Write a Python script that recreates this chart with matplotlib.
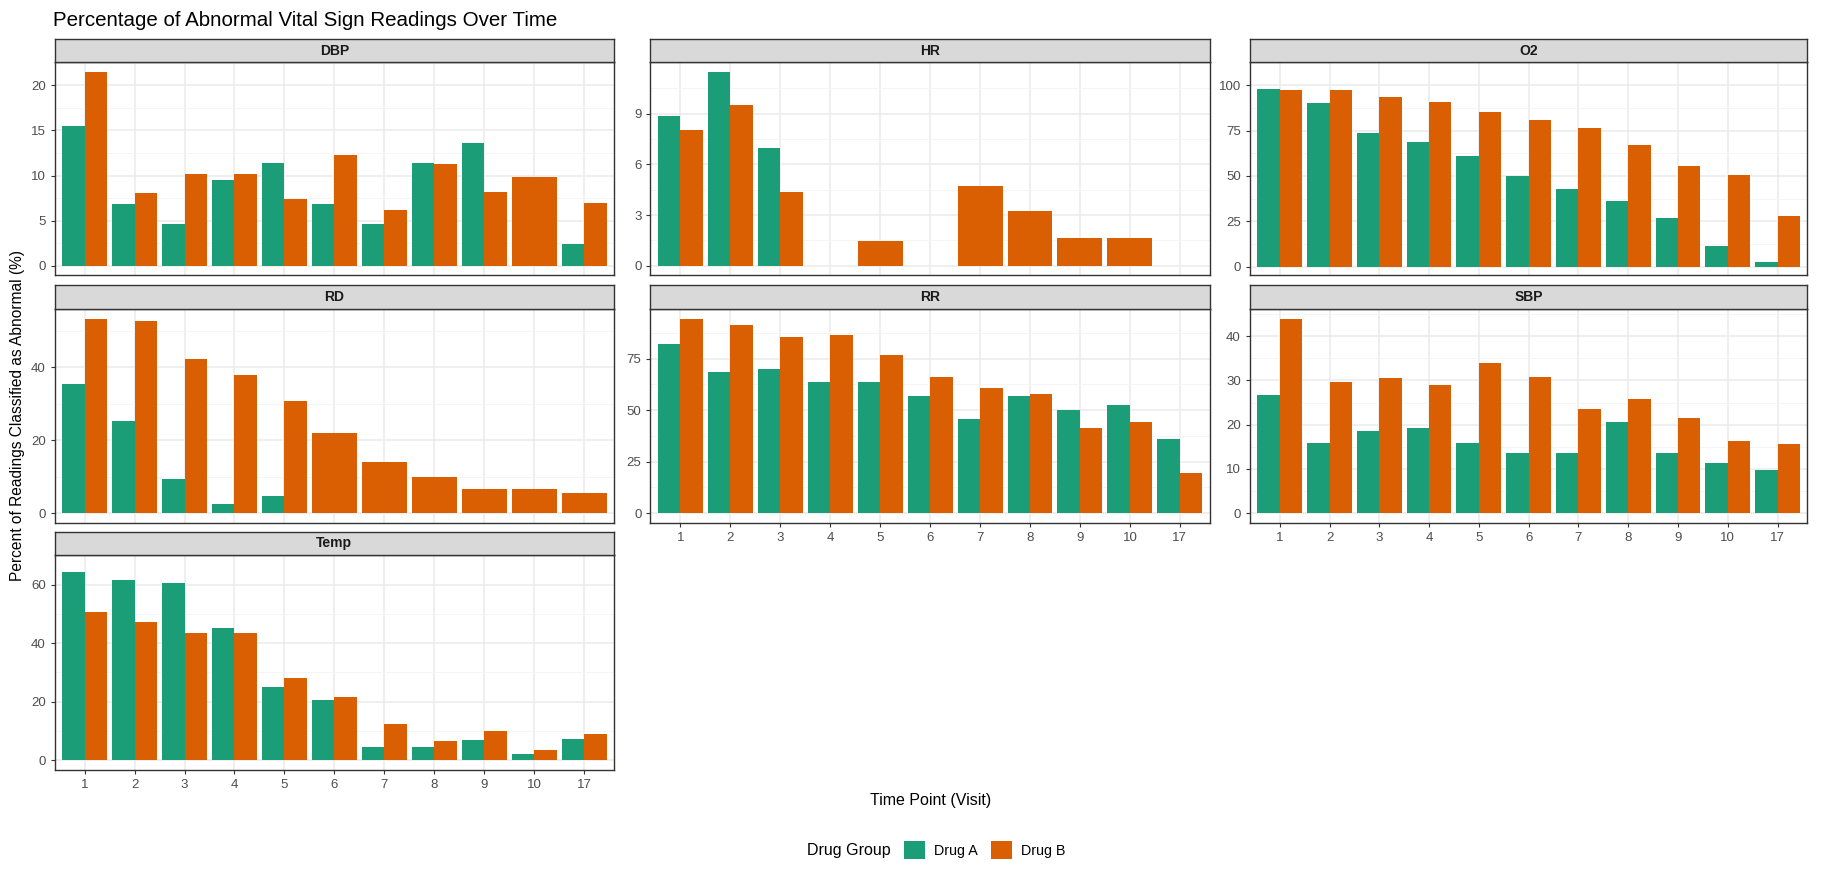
import matplotlib
matplotlib.use("Agg")
import matplotlib.pyplot as plt
from matplotlib.patches import Patch
import numpy as np

plt.rcParams['font.family'] = ['Liberation Sans', 'DejaVu Sans']

# Datos
visits = ['1', '2', '3', '4', '5', '6', '7', '8', '9', '10', '17']
groups = ['Drug A', 'Drug B']
colors = {'Drug A': '#1B9E77', 'Drug B': '#D95F02'}

# None = sin lectura para ese grupo/visita
dbp_a = [15.5, 6.8, 4.6, 9.5, 11.4, 6.8, 4.6, 11.4, 13.6, None, 2.4]
dbp_b = [21.45, 8.1, 10.15, 10.15, 7.35, 12.3, 6.2, 11.3, 8.2, 9.8, 7.0]
hr_a = [8.88, 11.45, 6.97, None, None, None, None, None, None, None, None]
hr_b = [8.03, 9.48, 4.34, None, 1.45, None, 4.7, 3.25, 1.65, 1.65, None]
o2_a = [97.8, 90.1, 73.8, 68.4, 61.1, 49.8, 42.7, 36.1, 26.9, 11.1, 2.4]
o2_b = [97.3, 97.3, 93.7, 90.6, 85.0, 80.9, 76.4, 67.2, 55.3, 50.7, 27.9]
rd_a = [35.5, 25.2, 9.3, 2.6, 4.56, None, None, None, None, None, None]
rd_b = [53.4, 52.8, 42.2, 37.8, 30.8, 21.9, 14.0, 9.86, 6.5, 6.5, 5.4]
rr_a = [82.1, 68.3, 69.7, 63.8, 63.5, 56.9, 45.6, 56.9, 50.0, 52.5, 35.7]
rr_b = [94.4, 91.4, 85.5, 86.5, 76.5, 65.8, 60.9, 57.9, 41.1, 44.1, 19.2]
sbp_a = [26.7, 15.9, 18.6, 19.2, 15.9, 13.6, 13.6, 20.5, 13.6, 11.3, 9.66]
sbp_b = [44.0, 29.7, 30.6, 29.0, 33.9, 30.7, 23.5, 25.8, 21.5, 16.4, 15.7]
temp_a = [64.3, 61.5, 60.5, 45.3, 25.0, 20.6, 4.6, 4.5, 6.76, 2.25, 7.1]
temp_b = [50.7, 47.3, 43.5, 43.5, 28.0, 21.6, 12.5, 6.4, 9.8, 3.4, 8.8]

panels = [
    ('DBP', dbp_a, dbp_b, [0, 5, 10, 15, 20]),
    ('HR', hr_a, hr_b, [0, 3, 6, 9]),
    ('O2', o2_a, o2_b, [0, 25, 50, 75, 100]),
    ('RD', rd_a, rd_b, [0, 20, 40]),
    ('RR', rr_a, rr_b, [0, 25, 50, 75]),
    ('SBP', sbp_a, sbp_b, [0, 10, 20, 30, 40]),
    ('Temp', temp_a, temp_b, [0, 20, 40, 60]),
]

fig = plt.figure(figsize=(18.22, 8.8), dpi=100)

cols = [(0.030, 0.337), (0.357, 0.664), (0.686, 0.992)]
rows = [(0.687, 0.929, 0.956), (0.406, 0.649, 0.676), (0.1255, 0.369, 0.396)]
grey20 = '#333333'

for i, (name, va, vb, yticks) in enumerate(panels):
    r, c = divmod(i, 3)
    left, right = cols[c]
    bottom, top, stop = rows[r]
    ax = fig.add_axes([left, bottom, right - left, top - bottom])
    sx = fig.add_axes([left, top, right - left, stop - top])

    x = np.arange(len(visits))
    for j in range(len(visits)):
        a, b = va[j], vb[j]
        if a is not None and b is not None:
            ax.bar(x[j] - 0.225, a, width=0.45, color=colors['Drug A'])
            ax.bar(x[j] + 0.225, b, width=0.45, color=colors['Drug B'])
        elif a is not None:
            ax.bar(x[j], a, width=0.9, color=colors['Drug A'])
        elif b is not None:
            ax.bar(x[j], b, width=0.9, color=colors['Drug B'])

    vals = [v for v in va + vb if v is not None]
    ymax = max(vals)
    ax.set_ylim(-0.05 * ymax, ymax * 1.05)
    ax.set_xlim(-0.6, len(visits) - 0.4)
    ax.set_yticks(yticks)
    ax.set_yticks([(yticks[k] + yticks[k + 1]) / 2 for k in range(len(yticks) - 1)]
                  + [yticks[-1] + (yticks[1] - yticks[0]) / 2], minor=True)
    ax.set_xticks(x)
    ax.grid(which='major', color='#EBEBEB', linewidth=1.1)
    ax.grid(which='minor', axis='y', color='#F4F4F4', linewidth=0.6)
    ax.set_axisbelow(True)
    ax.tick_params(axis='both', which='major', labelsize=9.5, labelcolor='#4D4D4D',
                   color=grey20, length=3, width=0.8)
    ax.tick_params(which='minor', length=0)
    bottom_of_col = (c == 0 and r == 2) or (c > 0 and r == 1)
    if bottom_of_col:
        ax.set_xticklabels(visits)
    else:
        ax.tick_params(axis='x', length=0, labelbottom=False)
    for s in ax.spines.values():
        s.set_color(grey20)
        s.set_linewidth(1.0)

    sx.set_facecolor('#D9D9D9')
    sx.set_xticks([])
    sx.set_yticks([])
    for s in sx.spines.values():
        s.set_color(grey20)
        s.set_linewidth(1.0)
    sx.text(0.5, 0.5, name, ha='center', va='center', fontsize=10,
            fontweight='bold', color='#1A1A1A', transform=sx.transAxes)

fig.text(0.029, 0.977, 'Percentage of Abnormal Vital Sign Readings Over Time',
         fontsize=14.8, ha='left', va='center')
fig.text(0.0095, 0.528, 'Percent of Readings Classified as Abnormal (%)',
         fontsize=11.2, rotation=90, ha='center', va='center')
fig.text(0.511, 0.090, 'Time Point (Visit)', fontsize=11.5, ha='center', va='center')

fig.text(0.489, 0.034, 'Drug Group', fontsize=11.5, ha='right', va='center')
handles = [Patch(facecolor=colors[g], label=g) for g in groups]
fig.legend(handles=handles, loc='center left', bbox_to_anchor=(0.493, 0.034),
           ncol=2, frameon=False, fontsize=10.3, handlelength=1.5, handleheight=1.5,
           columnspacing=0.9, handletextpad=0.6, borderaxespad=0)

fig.savefig('out.png', dpi=100, facecolor='white')
